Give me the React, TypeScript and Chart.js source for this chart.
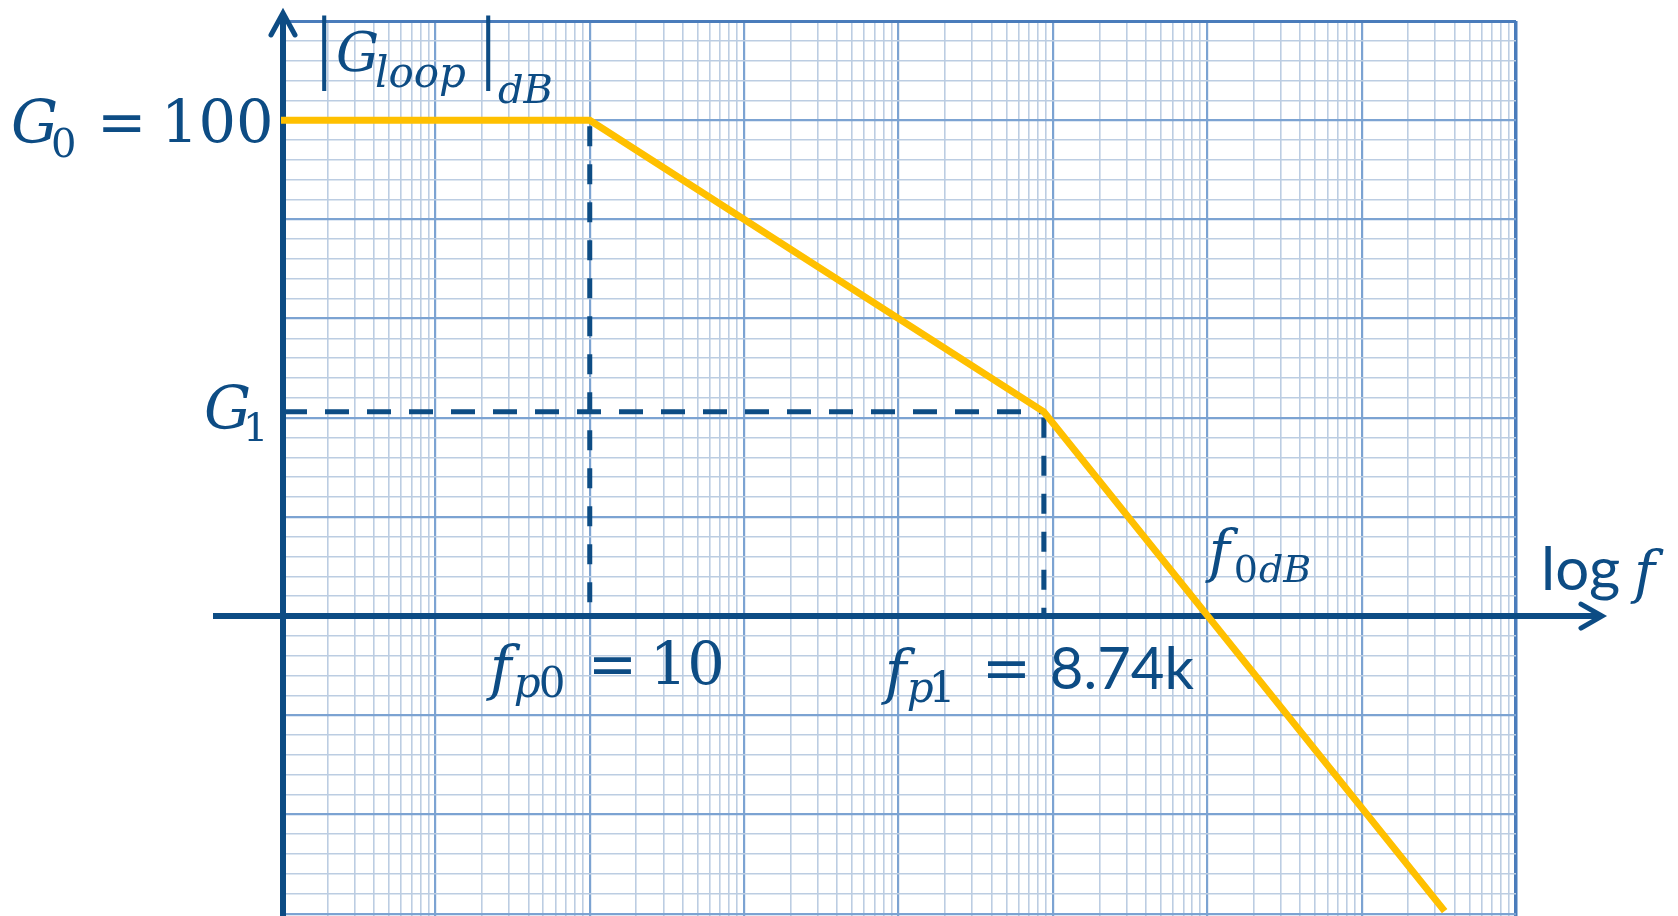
import { useEffect, useRef } from "react";
import { Chart, registerables } from "chart.js";

Chart.register(...registerables);

// Asymptotic loop-gain magnitude: break points and the last visible point
const freqHz = [0.1, 10, 8740, 3.45e6];
const gainDb = [100, 100, 41.2, -59.5];

// Named quantities marked on the plot
const G0_DB = 100;
const G1_DB = 41.2;
const FP0_HZ = 10;
const FP1_HZ = 8740;

// Visible window of the plot
const freqRange = [0.1, 1e7];
const dbRange = [-60.48, 120];

// Log-paper background: decades and the lines inside each decade
const paperDecades = [0.1, 1, 10, 100, 1e3, 1e4, 1e5, 1e6];
const paperSteps = [1, 2, 3, 4, 5, 6, 7, 8, 9];
const paperDbStep = 4;
const paperDbMajor = 20;

const NAVY = "#0d4c84";
const GOLD = "#ffc000";
const GRID_MINOR = "#bccde2";
const GRID_MAJOR = "#7ca3d2";
const GRID_EDGE = "#4a7cbb";

const mathIt = (s: number) => `italic ${s}px "DejaVu Serif"`;
const mathUp = (s: number) => `${s}px "DejaVu Serif"`;
const sans = (s: number) => `${s}px Lato`;
const bar = (s: number) => `${s}px "Liberation Serif"`;

type Anchor = "base" | "top" | "bottom";

// Draws text so that its ink starts at `left`; returns pen position and ink right edge.
function put(
  ctx: CanvasRenderingContext2D,
  text: string,
  font: string,
  left: number,
  y: number,
  anchor: Anchor = "base"
) {
  ctx.font = font;
  const m = ctx.measureText(text);
  let base = y;
  if (anchor === "top") base = y + m.actualBoundingBoxAscent;
  if (anchor === "bottom") base = y - m.actualBoundingBoxDescent;
  const x = left + m.actualBoundingBoxLeft;
  ctx.fillText(text, x, base);
  return { pen: x + m.width, right: x + m.actualBoundingBoxRight };
}

function seg(ctx: CanvasRenderingContext2D, x1: number, y1: number, x2: number, y2: number) {
  ctx.beginPath();
  ctx.moveTo(x1, y1);
  ctx.lineTo(x2, y2);
  ctx.stroke();
}

function isDecade(v: number) {
  const l = Math.log10(v);
  return Math.abs(l - Math.round(l)) < 1e-9;
}

// Frequency where the asymptote crosses 0 dB (log-linear interpolation)
function zeroCrossing() {
  for (let i = 0; i < gainDb.length - 1; i++) {
    const a = gainDb[i];
    const b = gainDb[i + 1];
    if (a >= 0 && b < 0) {
      const t = a / (a - b);
      const la = Math.log10(freqHz[i]);
      const lb = Math.log10(freqHz[i + 1]);
      return Math.pow(10, la + t * (lb - la));
    }
  }
  return freqHz[freqHz.length - 1];
}

const bodeOverlay = {
  id: "bodeOverlay",
  beforeDatasetsDraw(chart: any) {
    const { ctx } = chart;
    const xs = chart.scales.x;
    const ys = chart.scales.y;
    const px = (f: number) => xs.getPixelForValue(f);
    const py = (d: number) => ys.getPixelForValue(d);
    const axisX = px(freqRange[0]) + 2;
    const axisY = py(0);

    ctx.save();
    ctx.strokeStyle = NAVY;

    // guide lines to the break points
    ctx.lineWidth = 5;
    ctx.lineCap = "butt";
    ctx.setLineDash([24, 18]);
    seg(ctx, axisX, py(G1_DB), px(FP1_HZ), py(G1_DB));
    ctx.setLineDash([20, 18]);
    ctx.lineDashOffset = -6;
    seg(ctx, px(FP0_HZ), py(G0_DB), px(FP0_HZ), axisY);
    seg(ctx, px(FP1_HZ), py(G1_DB), px(FP1_HZ), axisY);
    ctx.setLineDash([]);

    // axes with arrow heads
    ctx.lineWidth = 6;
    seg(ctx, axisX, 13, axisX, chart.height);
    seg(ctx, 213, axisY, 1602, axisY);
    ctx.lineWidth = 5;
    ctx.lineCap = "round";
    ctx.lineJoin = "miter";
    ctx.beginPath();
    ctx.moveTo(axisX - 12, 35);
    ctx.lineTo(axisX, 13);
    ctx.lineTo(axisX + 12, 35);
    ctx.stroke();
    ctx.beginPath();
    ctx.moveTo(1581, axisY - 12);
    ctx.lineTo(1602, axisY);
    ctx.lineTo(1581, axisY + 12);
    ctx.stroke();
    ctx.restore();
  },
  afterDraw(chart: any) {
    const { ctx } = chart;
    const xs = chart.scales.x;
    const ys = chart.scales.y;
    const px = (f: number) => xs.getPixelForValue(f);
    const py = (d: number) => ys.getPixelForValue(d);
    const axisY = py(0);

    ctx.save();
    ctx.fillStyle = NAVY;
    ctx.textAlign = "left";
    ctx.textBaseline = "alphabetic";

    // |G_loop|_dB
    put(ctx, "|", bar(82), 322, 15, "top");
    const gl = put(ctx, "G", mathIt(54), 337, 71);
    put(ctx, "loop", mathIt(42), gl.right - 1, 87);
    put(ctx, "|", bar(82), 486, 15, "top");
    put(ctx, "dB", mathIt(40), 498, 103);

    // G_0 = 100
    const g0 = py(G0_DB) + 23;
    const gz = put(ctx, "G", mathIt(59), 12, g0);
    put(ctx, "0", mathUp(40), gz.right - 3, g0 + 14);
    put(ctx, "=", mathUp(59), 103, g0);
    put(ctx, String(G0_DB), mathUp(59), 168, g0);

    // G_1
    const g1 = py(G1_DB) + 17;
    const go = put(ctx, "G", mathIt(59), 205, g1);
    put(ctx, "1", mathUp(40), go.right - 2, g1 + 12);

    // f_p0 = 10
    const f0x = px(FP0_HZ) - 104;
    put(ctx, "f", mathIt(59), f0x, axisY + 27, "top");
    let sub = put(ctx, "p", mathIt(42), f0x + 29, axisY + 81);
    put(ctx, "0", mathUp(42), sub.pen, axisY + 81);
    put(ctx, "=", mathUp(59), f0x + 108, axisY + 69);
    put(ctx, "10", mathUp(59), f0x + 171, axisY + 69);

    // f_p1 = 8.74k
    const f1x = px(FP1_HZ) - 163;
    put(ctx, "f", mathIt(59), f1x, axisY + 31, "top");
    sub = put(ctx, "p", mathIt(42), f1x + 27, axisY + 86);
    put(ctx, "1", mathUp(42), sub.pen, axisY + 86);
    put(ctx, "=", mathUp(59), f1x + 107, axisY + 73);
    put(ctx, "8.74k", sans(58), f1x + 171, axisY + 73);

    // f_0dB at the crossover
    const fcx = px(zeroCrossing()) - 3;
    put(ctx, "f", mathIt(57), fcx, axisY - 89, "top");
    sub = put(ctx, "0", mathUp(38), fcx + 31, axisY - 34);
    put(ctx, "dB", mathIt(38), sub.pen + 1, axisY - 34);

    // log f
    put(ctx, "log", sans(60), 1545, axisY - 26);
    put(ctx, "f", mathIt(57), 1630, axisY - 68, "top");

    ctx.restore();
  },
};

export default function App() {
  const canvasRef = useRef<HTMLCanvasElement | null>(null);

  useEffect(() => {
    const canvas = canvasRef.current;
    if (!canvas) return;

    const points = freqHz.map((f, i) => ({ x: f, y: gainDb[i] }));

    const xPaper: number[] = [];
    paperDecades.forEach((d) => paperSteps.forEach((s) => xPaper.push(d * s)));
    xPaper.push(freqRange[1]);

    const yPaper: number[] = [];
    for (let v = Math.ceil(dbRange[0] / paperDbStep) * paperDbStep; v <= dbRange[1]; v += paperDbStep) {
      yPaper.push(v);
    }

    const chart = new Chart(canvas, {
      type: "line",
      data: {
        datasets: [
          {
            data: points,
            borderColor: GOLD,
            borderWidth: 7,
            pointRadius: 0,
            tension: 0,
            borderJoinStyle: "miter",
            borderCapStyle: "butt",
            fill: false,
          },
        ],
      },
      options: {
        responsive: false,
        maintainAspectRatio: false,
        animation: false,
        devicePixelRatio: 1,
        layout: { padding: { left: 281, right: 162, top: 21, bottom: 0 } },
        plugins: {
          legend: { display: false },
          tooltip: { enabled: false },
        },
        scales: {
          x: {
            type: "logarithmic",
            min: freqRange[0],
            max: freqRange[1],
            afterBuildTicks: (scale: any) => {
              scale.ticks = xPaper.map((value) => ({ value }));
            },
            ticks: { display: false },
            border: { display: false },
            grid: {
              drawTicks: false,
              color: (c: any) =>
                c.tick && c.tick.value >= freqRange[1] ? GRID_EDGE : c.tick && isDecade(c.tick.value) ? GRID_MAJOR : GRID_MINOR,
              lineWidth: (c: any) =>
                c.tick && c.tick.value >= freqRange[1] ? 3.5 : c.tick && isDecade(c.tick.value) ? 2.2 : 1.6,
            },
          },
          y: {
            type: "linear",
            min: dbRange[0],
            max: dbRange[1],
            afterBuildTicks: (scale: any) => {
              scale.ticks = yPaper.map((value) => ({ value }));
            },
            ticks: { display: false },
            border: { display: false },
            grid: {
              drawTicks: false,
              color: (c: any) =>
                c.tick && c.tick.value >= dbRange[1] ? GRID_EDGE : c.tick && c.tick.value % paperDbMajor === 0 ? GRID_MAJOR : GRID_MINOR,
              lineWidth: (c: any) =>
                c.tick && c.tick.value >= dbRange[1] ? 3 : c.tick && c.tick.value % paperDbMajor === 0 ? 2.2 : 1.6,
            },
          },
        },
      },
      plugins: [bodeOverlay],
    });

    return () => chart.destroy();
  }, []);

  return (
    <div style={{ position: "fixed", left: 0, top: 0, width: 1678, height: 916, background: "#ffffff" }}>
      <canvas ref={canvasRef} width={1678} height={916} style={{ display: "block" }} />
    </div>
  );
}
